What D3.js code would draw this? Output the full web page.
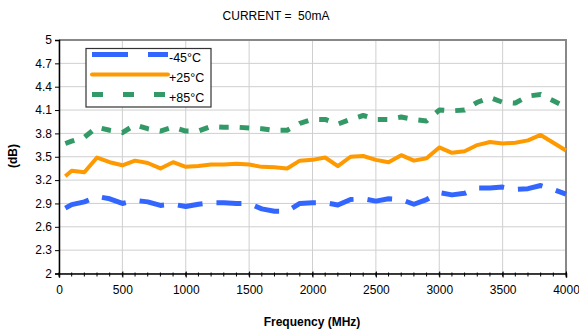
<!DOCTYPE html>
<html>
<head>
<meta charset="utf-8">
<script src="https://cdn.jsdelivr.net/npm/d3@7"></script>
<style>
    body { margin: 0; background: #fff; }
    text { font-family: Arial, "Liberation Sans", sans-serif; fill: #000; }
</style>
</head>
<body>
<div id="main"></div>
<script>
const ctx = {
    w: 579,
    h: 331,
    left: 59,
    right: 566,
    top: 40,
    bottom: 273.5
};

// frequency points (MHz)
const FREQ = [50, 100, 200, 300, 400, 500, 600, 700, 800, 900,
    1000, 1100, 1200, 1300, 1400, 1500, 1600, 1700, 1800, 1900,
    2000, 2100, 2200, 2300, 2400, 2500, 2600, 2700, 2800, 2900,
    3000, 3100, 3200, 3300, 3400, 3500, 3600, 3700, 3800, 3900, 4000];

// noise figure (dB) per temperature
const NF_M45 = [2.84, 2.885, 2.92, 2.99, 2.96, 2.90, 2.94, 2.92, 2.875, 2.89,
    2.86, 2.89, 2.91, 2.91, 2.90, 2.90, 2.83, 2.80, 2.80, 2.90,
    2.91, 2.91, 2.88, 2.95, 2.96, 2.93, 2.96, 2.95, 2.89, 2.95,
    3.04, 3.01, 3.03, 3.10, 3.10, 3.11, 3.08, 3.09, 3.13, 3.08, 3.02];
const NF_P25 = [3.25, 3.32, 3.30, 3.49, 3.43, 3.39, 3.45, 3.42, 3.35, 3.43,
    3.37, 3.38, 3.40, 3.40, 3.41, 3.40, 3.37, 3.365, 3.35, 3.45,
    3.46, 3.49, 3.38, 3.50, 3.51, 3.46, 3.43, 3.52, 3.45, 3.48,
    3.62, 3.55, 3.57, 3.65, 3.69, 3.67, 3.68, 3.71, 3.78, 3.68, 3.58];
const NF_P85 = [3.67, 3.70, 3.75, 3.88, 3.84, 3.81, 3.91, 3.86, 3.83, 3.88,
    3.83, 3.83, 3.89, 3.88, 3.88, 3.87, 3.86, 3.84, 3.84, 3.93,
    3.98, 3.98, 3.92, 3.98, 4.03, 3.98, 3.98, 4.01, 3.98, 3.96,
    4.10, 4.09, 4.10, 4.20, 4.26, 4.20, 4.19, 4.28, 4.30, 4.22, 4.14];

const Y_TICKS = [2, 2.3, 2.6, 2.9, 3.2, 3.5, 3.8, 4.1, 4.4, 4.7, 5];
const X_TICKS = [0, 500, 1000, 1500, 2000, 2500, 3000, 3500, 4000];

const SERIES = [
    { name: "-45°C", values: NF_M45, color: "#3366ff", width: 5, dash: "25,14", legendDash: "36,20" },
    { name: "+25°C", values: NF_P25, color: "#ff9900", width: 4, dash: null, legendDash: null },
    { name: "+85°C", values: NF_P85, color: "#339966", width: 5, dash: "9.5,11", legendDash: "11,20" }
];

const x = d3.scaleLinear().domain([0, 4000]).range([ctx.left, ctx.right]);
const y = d3.scaleLinear().domain([2, 5]).range([ctx.bottom, ctx.top]);

function createViz() {
    let svgEl = d3.select("#main").append("svg")
        .attr("width", ctx.w)
        .attr("height", ctx.h);
    svgEl.append("rect")
        .attr("width", "100%")
        .attr("height", "100%")
        .attr("fill", "#fff");

    drawGrid(svgEl);
    drawLines(svgEl);
    drawAxes(svgEl);
    drawLegend(svgEl);
    drawTexts(svgEl);
}

function drawGrid(svgEl) {
    let g = svgEl.append("g").attr("id", "grid");
    g.selectAll("line.hg")
        .data(Y_TICKS)
        .enter()
        .append("line")
        .attr("x1", ctx.left).attr("x2", ctx.right)
        .attr("y1", d => y(d)).attr("y2", d => y(d))
        .attr("stroke", "#cfcfcf")
        .attr("stroke-width", 1);
    g.selectAll("line.vg")
        .data(X_TICKS)
        .enter()
        .append("line")
        .attr("x1", d => x(d)).attr("x2", d => x(d))
        .attr("y1", ctx.top).attr("y2", ctx.bottom)
        .attr("stroke", "#cfcfcf")
        .attr("stroke-width", 1);
    // frame on top and right
    g.append("path")
        .attr("d", `M${ctx.left},${ctx.top}H${ctx.right}V${ctx.bottom}`)
        .attr("fill", "none")
        .attr("stroke", "#888")
        .attr("stroke-width", 2);
}

function drawLines(svgEl) {
    let line = d3.line()
        .x((d, i) => x(FREQ[i]))
        .y(d => y(d));
    svgEl.append("g").attr("id", "lines")
        .selectAll("path")
        .data(SERIES)
        .enter()
        .append("path")
        .attr("d", d => line(d.values))
        .attr("fill", "none")
        .attr("stroke", d => d.color)
        .attr("stroke-width", d => d.width)
        .attr("stroke-linejoin", "round")
        .attr("stroke-dasharray", d => d.dash);
}

function drawAxes(svgEl) {
    // y axis
    let yAxis = d3.axisLeft(y)
        .tickValues(Y_TICKS)
        .tickSize(4)
        .tickPadding(3)
        .tickFormat(d => d3.format("")(+d.toFixed(1)));
    let yG = svgEl.append("g")
        .attr("transform", `translate(${ctx.left},0)`)
        .call(yAxis);
    yG.select(".domain").attr("stroke", "#000").attr("stroke-width", 1.5);
    yG.selectAll(".tick line").attr("stroke", "#000");
    yG.selectAll("text")
        .attr("font-size", 12)
        .attr("font-family", "Arial, 'Liberation Sans', sans-serif");

    // x axis, minor ticks every 100 MHz
    let minor = d3.range(0, 4001, 100);
    svgEl.append("g").selectAll("line")
        .data(minor)
        .enter()
        .append("line")
        .attr("x1", d => x(d)).attr("x2", d => x(d))
        .attr("y1", ctx.bottom - 1).attr("y2", ctx.bottom + 3)
        .attr("stroke", "#000");
    let xAxis = d3.axisBottom(x)
        .tickValues(X_TICKS)
        .tickSize(4)
        .tickPadding(8)
        .tickFormat(d3.format("d"));
    let xG = svgEl.append("g")
        .attr("transform", `translate(0,${ctx.bottom})`)
        .call(xAxis);
    xG.select(".domain").attr("stroke", "#000").attr("stroke-width", 1.5);
    xG.selectAll(".tick line").attr("stroke", "#000").attr("y1", -2);
    xG.selectAll("text")
        .attr("font-size", 12)
        .attr("font-family", "Arial, 'Liberation Sans', sans-serif");
}

function drawLegend(svgEl) {
    let lg = svgEl.append("g").attr("id", "legend");
    lg.append("rect")
        .attr("x", 86).attr("y", 48.5)
        .attr("width", 125).attr("height", 58.5)
        .attr("fill", "#fff")
        .attr("stroke", "#333")
        .attr("stroke-width", 1.2);
    let items = lg.selectAll("g.item")
        .data(SERIES)
        .enter()
        .append("g")
        .attr("transform", (d, i) => `translate(0,${54.5 + i * 20})`);
    items.append("line")
        .attr("x1", 92).attr("x2", 168)
        .attr("stroke", d => d.color)
        .attr("stroke-width", d => d.width)
        .attr("stroke-linecap", d => d.dash ? "butt" : "round")
        .attr("stroke-dasharray", d => d.legendDash);
    items.append("text")
        .attr("x", 169)
        .attr("y", 7.5)
        .attr("font-size", 12.5)
        .text(d => d.name);
}

function drawTexts(svgEl) {
    svgEl.append("text")
        .attr("x", 276).attr("y", 20)
        .attr("text-anchor", "middle")
        .attr("font-size", 12)
        .style("white-space", "pre")
        .text("CURRENT =  50mA");
    svgEl.append("text")
        .attr("x", 312).attr("y", 326)
        .attr("text-anchor", "middle")
        .attr("font-size", 12)
        .attr("font-weight", "bold")
        .text("Frequency (MHz)");
    svgEl.append("text")
        .attr("transform", "translate(16.5,156) rotate(-90)")
        .attr("text-anchor", "middle")
        .attr("font-size", 12)
        .attr("font-weight", "bold")
        .text("(dB)");
}

createViz();
</script>
</body>
</html>
